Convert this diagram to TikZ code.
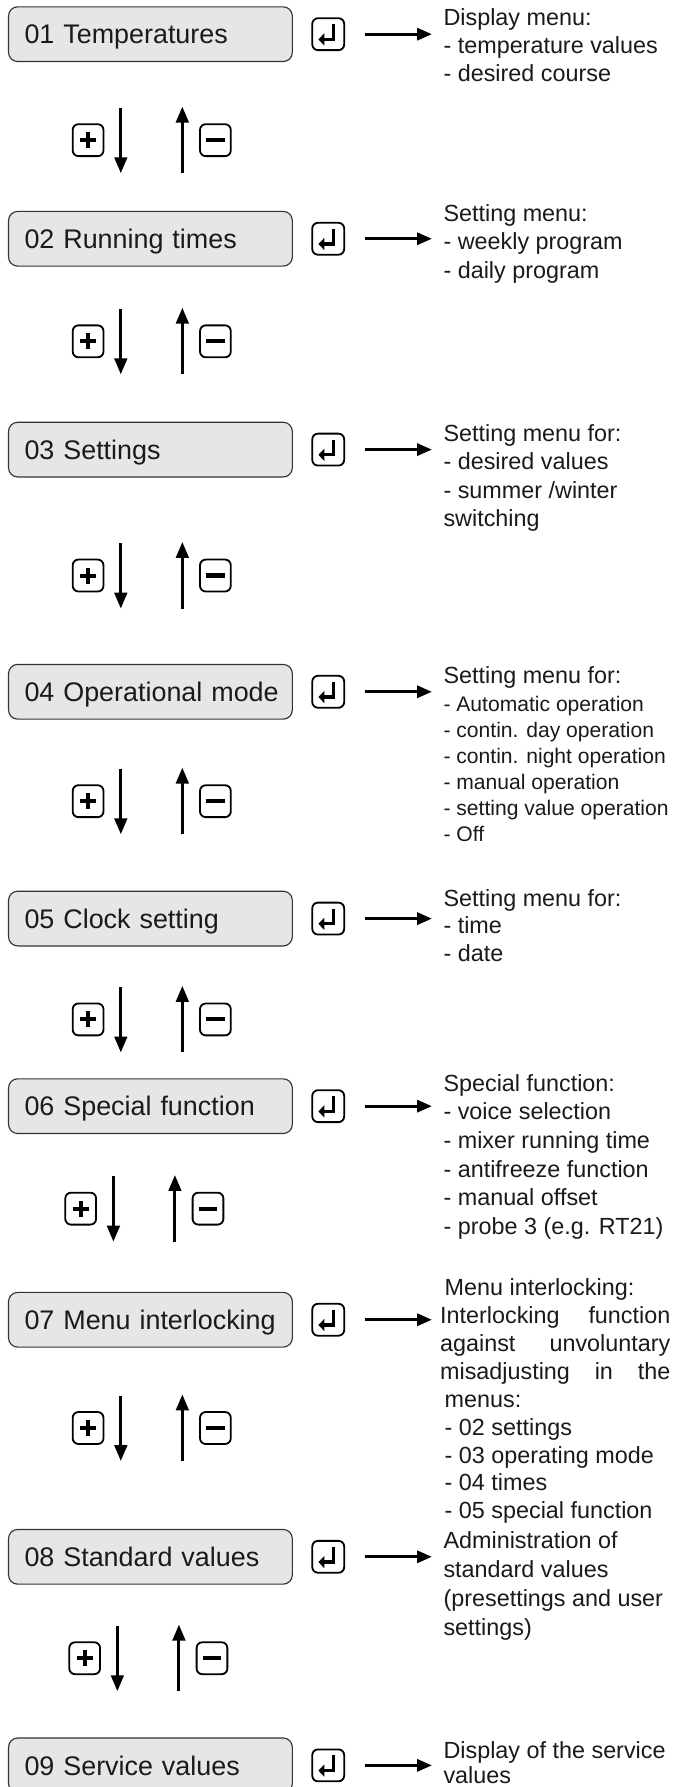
\documentclass[tikz,border=0pt]{standalone}
\usepackage{fontspec}
\setmainfont{Liberation Sans}
\usetikzlibrary{arrows.meta}
\definecolor{boxfill}{HTML}{E6E6E8}
\definecolor{boxline}{HTML}{333333}
\definecolor{ink}{HTML}{1A1A1A}
\tikzset{
 menubox/.style={draw=boxline, line width=1pt, fill=boxfill, rounded corners=8pt,
   minimum width=249pt, minimum height=48pt, text width=221pt, inner xsep=14pt,
   align=left, text height=17pt, text depth=0pt,
   font=\fontsize{23.6}{28}\selectfont, text=ink, anchor=west},
 keybox/.style={draw=black, line width=1.6pt, rounded corners=5pt,
   minimum width=27pt, minimum height=28pt, inner sep=0pt},
 enterkey/.style={keybox, minimum width=28pt, path picture={
   \draw[sharp corners, line width=2.8pt, line cap=butt, line join=miter]
     ([shift={(4.8pt,8.8pt)}]path picture bounding box.center) --
     ([shift={(4.8pt,-4.6pt)}]path picture bounding box.center) --
     ([shift={(-4pt,-4.6pt)}]path picture bounding box.center);
   \fill[sharp corners] ([shift={(-8.6pt,-4.6pt)}]path picture bounding box.center) --
     ([shift={(-3.4pt,0.8pt)}]path picture bounding box.center) --
     ([shift={(-3.4pt,-10pt)}]path picture bounding box.center) -- cycle;}},
 pluskey/.style={keybox, path picture={
   \draw[sharp corners, line width=3.5pt]
     ([shift={(-7pt,0pt)}]path picture bounding box.center) --
     ([shift={(7pt,0pt)}]path picture bounding box.center);
   \draw[sharp corners, line width=3.5pt]
     ([shift={(0pt,-7pt)}]path picture bounding box.center) --
     ([shift={(0pt,7pt)}]path picture bounding box.center);}},
 minuskey/.style={keybox, path picture={
   \draw[sharp corners, line width=3.6pt]
     ([shift={(-8pt,0pt)}]path picture bounding box.center) --
     ([shift={(8pt,0pt)}]path picture bounding box.center);}},
 harrow/.style={line width=2.7pt, -{Triangle[length=13pt,width=10.5pt]}},
 varrow/.style={line width=2.6pt, -{Triangle[length=14pt,width=11pt]}},
 desc/.style={font=\fontsize{20.5}{24}\selectfont, text=ink, inner sep=0pt, anchor=base west},
 descsmall/.style={desc, font=\fontsize{18.5}{22}\selectfont},
}
\newcommand\menuitem[3]{%
 \node[menubox] (b#1) at (7,#2) {\mbox{#3}};
 \node[enterkey] (e#1) at (288,#2) {};
 \coordinate (h#1s) at (320,#2);
 \coordinate (h#1e) at (379,#2);
 \draw[harrow] (h#1s) -- (h#1e);}
\newcommand\navrow[3]{%
 \begin{scope}[xshift=#3pt]
 \node[pluskey] (p#1) at (77.3,#2) {};
 \node[minuskey] (m#1) at (189,#2) {};
 \coordinate (dn#1s) at (106,{#2-28.5});
 \coordinate (dn#1e) at (106,{#2+29});
 \coordinate (up#1s) at (160,{#2+29});
 \coordinate (up#1e) at (160,{#2-29.5});
 \draw[varrow] (dn#1s) -- (dn#1e);
 \draw[varrow] (up#1s) -- (up#1e);
 \end{scope}}
\newcommand\desclines[6]{%
 \foreach \t [count=\i] in {#6} {\node[#2] (#1-\i) at (#3,{#4+(\i-1)*#5}) {\t};}}
\begin{document}
\begin{tikzpicture}[x=1pt,y=-1pt]
\useasboundingbox (0,0) rectangle (592,1568);
\fill[white] (0,0) rectangle (592,1568);

\menuitem{1}{30}{01 Temperatures}
\menuitem{2}{209.5}{02 Running times}
\menuitem{3}{394.5}{03 Settings}
\menuitem{4}{607}{04 Operational mode}
\menuitem{5}{806}{05 Clock setting}
\menuitem{6}{970.6}{06 Special function}
\menuitem{7}{1158}{07 Menu interlocking}
\menuitem{8}{1366}{08 Standard values}
\menuitem{9}{1549}{09 Service values}

\navrow{1}{123}{0}
\navrow{2}{299.5}{0}
\navrow{3}{505}{0}
\navrow{4}{703}{0}
\navrow{5}{894.5}{0}
\navrow{6}{1060.5}{-6.5}
\navrow{7}{1253}{0}
\navrow{8}{1455}{-3}

\desclines{d1}{desc}{389}{22.8}{24.5}{Display menu:,- temperature values,- desired course}
\desclines{d2}{desc}{389}{194.4}{24.8}{Setting menu:,- weekly program,- daily program}
\desclines{d3}{desc}{389}{387}{25}{Setting menu for:,- desired values,- summer /winter,switching}
\node[desc] (d4-1) at (389,600) {Setting menu for:};
\desclines{d4i}{descsmall}{389}{624}{22.8}{- Automatic operation,- contin. day operation,- contin. night operation,- manual operation,- setting value operation,- Off}
\desclines{d5}{desc}{389}{795}{24.3}{Setting menu for:,- time,- date}
\desclines{d6}{desc}{389}{957.5}{25.1}{Special function:,- voice selection,- mixer running time,- antifreeze function,- manual offset,- probe 3 (e.g. RT21)}
\node[desc] (d7-1) at (390,1137) {Menu interlocking:};
\node[desc] (d7-2) at (386,1161.5) {\makebox[202pt][s]{Interlocking function}};
\node[desc] (d7-3) at (386,1186) {\makebox[202pt][s]{against unvoluntary}};
\node[desc] (d7-4) at (386,1210.5) {\makebox[202pt][s]{misadjusting in the}};
\desclines{d7b}{desc}{390}{1235}{24.4}{menus:,- 02 settings,- 03 operating mode,- 04 times,- 05 special function}
\desclines{d8}{desc}{389}{1359}{25.3}{Administration of,standard values,{(presettings and user},settings)}
\desclines{d9}{desc}{389}{1543}{22.2}{Display of the service,values}
\end{tikzpicture}
\end{document}
